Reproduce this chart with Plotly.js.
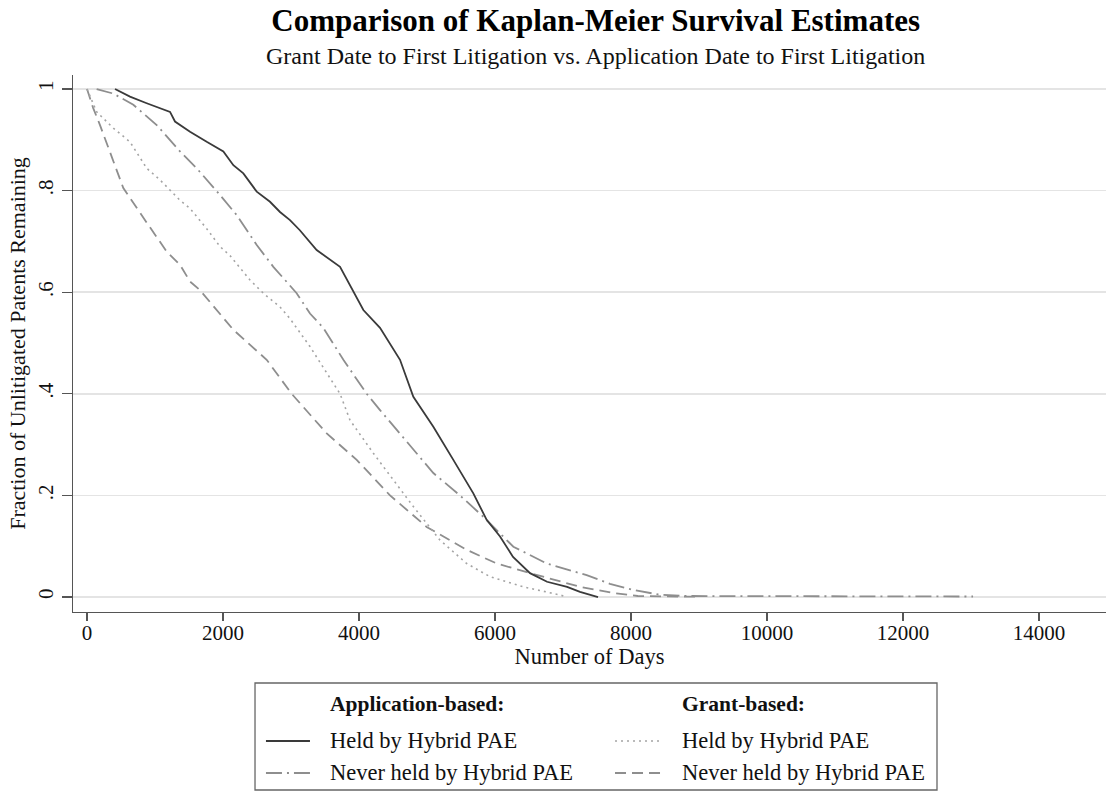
<!DOCTYPE html>
<html>
<head>
<meta charset="utf-8">
<script src="https://cdn.plot.ly/plotly-3.0.1.min.js"></script>
<style>
  html, body { margin: 0; padding: 0; background: #fff; }
  #chart { width: 1108px; height: 792px; }
</style>
</head>
<body>
<div id="chart"></div>
<script>
// ---------- Data ----------
const chartTitle = "Comparison of Kaplan-Meier Survival Estimates";
const chartSubtitle = "Grant Date to First Litigation vs. Application Date to First Litigation";
const xTitle = "Number of Days";
const yTitle = "Fraction of Unlitigated Patents Remaining";

const xTickVals = [0, 2000, 4000, 6000, 8000, 10000, 12000, 14000];
const xTickText = ["0", "2000", "4000", "6000", "8000", "10000", "12000", "14000"];
const yTickVals = [0, 0.2, 0.4, 0.6, 0.8, 1];
const yTickText = ["0", ".2", ".4", ".6", ".8", "1"];

const legendHeaders = ["Application-based:", "Grant-based:"];
const seriesNames = ["Held by Hybrid PAE", "Never held by Hybrid PAE",
                     "Held by Hybrid PAE", "Never held by Hybrid PAE"];

// Application-based, held by hybrid PAE (solid)
const appHeldDays = [412, 632, 878, 1221, 1294, 1515, 1760, 2005, 2152, 2299, 2496, 2691, 2838, 2985, 3130, 3377, 3721, 3819, 3917, 4064, 4309, 4603, 4799, 5093, 5387, 5681, 5877, 6074, 6265, 6515, 6765, 7060, 7250, 7515];
const appHeldSurv = [1.0, 0.985, 0.972, 0.955, 0.936, 0.916, 0.896, 0.877, 0.850, 0.834, 0.798, 0.778, 0.758, 0.742, 0.722, 0.683, 0.650, 0.626, 0.604, 0.565, 0.530, 0.467, 0.394, 0.335, 0.270, 0.204, 0.152, 0.119, 0.079, 0.047, 0.030, 0.020, 0.010, 0.0];

// Application-based, never held by hybrid PAE (dash-dot)
const appNeverDays = [142, 387, 681, 1025, 1368, 1613, 1907, 2201, 2496, 2740, 2912, 3083, 3279, 3475, 3770, 4113, 4309, 4603, 5093, 5485, 5828, 6270, 6760, 7348, 7690, 8034, 8400, 8770, 13030];
const appNeverSurv = [1.0, 0.991, 0.969, 0.929, 0.877, 0.844, 0.799, 0.752, 0.693, 0.650, 0.624, 0.598, 0.558, 0.530, 0.467, 0.400, 0.368, 0.322, 0.244, 0.200, 0.158, 0.099, 0.066, 0.043, 0.026, 0.014, 0.005, 0.002, 0.001];

// Grant-based, held by hybrid PAE (dotted)
const grantHeldDays = [0, 142, 387, 632, 878, 1074, 1368, 1515, 1760, 1956, 2103, 2397, 2593, 2838, 2985, 3279, 3721, 3868, 4211, 4505, 4799, 5191, 5583, 5926, 6416, 6956, 7060];
const grantHeldSurv = [1.0, 0.955, 0.923, 0.896, 0.844, 0.821, 0.781, 0.765, 0.725, 0.690, 0.672, 0.624, 0.598, 0.571, 0.548, 0.493, 0.400, 0.348, 0.283, 0.230, 0.178, 0.112, 0.066, 0.040, 0.020, 0.004, 0.0];

// Grant-based, never held by hybrid PAE (dashed)
const grantNeverDays = [0, 90, 191, 387, 534, 878, 1172, 1368, 1515, 1662, 2152, 2642, 3010, 3525, 3966, 4456, 4995, 5583, 6025, 6515, 7250, 7735, 8100, 9000];
const grantNeverSurv = [1.0, 0.963, 0.929, 0.857, 0.805, 0.737, 0.680, 0.654, 0.621, 0.604, 0.526, 0.467, 0.400, 0.322, 0.270, 0.200, 0.138, 0.093, 0.066, 0.047, 0.020, 0.008, 0.002, 0.0005];

// ---------- Styles ----------
const FONT = "Liberation Serif, Times New Roman, serif";
const styles = [
  {color: "#3a3a3a", width: 1.8, dash: "solid"},
  {color: "#8e8e8e", width: 1.8, dash: "16px,5px,2px,5px"},
  {color: "#a4a4a4", width: 1.6, dash: "2px,4px"},
  {color: "#8e8e8e", width: 1.8, dash: "11px,6px"}
];
const seriesX = [appHeldDays, appNeverDays, grantHeldDays, grantNeverDays];
const seriesY = [appHeldSurv, appNeverSurv, grantHeldSurv, grantNeverSurv];

const drawOrder = [3, 2, 1, 0];
const traces = drawOrder.map(i => ({
  type: "scatter",
  mode: "lines",
  x: seriesX[i],
  y: seriesY[i],
  name: seriesNames[i],
  line: {color: styles[i].color, width: styles[i].width, dash: styles[i].dash},
  showlegend: false,
  hoverinfo: "x+y"
}));

// ---------- Manual legend (box with two columns) ----------
const colSampleX = [[0.1868, 0.2294], [0.5247, 0.5702]];
const colTextX = [0.2469, 0.5876];
const headerY = -0.1713;
const rowY = [-0.2402, -0.2998];

const shapes = [{
  type: "rect", xref: "paper", yref: "paper",
  x0: 0.1762, x1: 0.8364, y0: -0.1322, y1: -0.3315,
  line: {color: "#666", width: 1.3}, fillcolor: "rgba(0,0,0,0)"
}];
const annotations = [{
  text: chartSubtitle, xref: "paper", yref: "paper", x: 0.506, y: 1.0354,
  xanchor: "center", yanchor: "middle", showarrow: false,
  font: {family: FONT, size: 24, color: "#111"}
}];
for (let c = 0; c < 2; c++) {
  annotations.push({
    text: "<b>" + legendHeaders[c] + "</b>", xref: "paper", yref: "paper",
    x: colTextX[c], y: headerY, xanchor: "left", yanchor: "middle", showarrow: false,
    font: {family: FONT, size: 21.5, color: "#111"}
  });
  for (let r = 0; r < 2; r++) {
    const i = c * 2 + r;
    shapes.push({
      type: "line", xref: "paper", yref: "paper",
      x0: colSampleX[c][0], x1: colSampleX[c][1], y0: rowY[r], y1: rowY[r],
      line: {color: styles[i].color, width: styles[i].width, dash: styles[i].dash}
    });
    annotations.push({
      text: seriesNames[i], xref: "paper", yref: "paper",
      x: colTextX[c], y: rowY[r], xanchor: "left", yanchor: "middle", showarrow: false,
      font: {family: FONT, size: 22.5, color: "#111"}
    });
  }
}

const layout = {
  width: 1108, height: 792,
  margin: {l: 73, r: 2, t: 75, b: 180},
  paper_bgcolor: "#ffffff", plot_bgcolor: "#ffffff",
  font: {family: FONT, color: "#111"},
  title: {
    text: "<b>" + chartTitle + "</b>",
    xref: "paper", x: 0.506, xanchor: "center",
    yref: "container", y: 0.975, yanchor: "middle",
    font: {family: FONT, size: 31, color: "#000"}
  },
  xaxis: {
    range: [-206, 14985],
    tickvals: xTickVals, ticktext: xTickText,
    ticks: "outside", ticklen: 8, tickwidth: 1.3, tickcolor: "#555",
    ticklabelstandoff: -7,
    showline: true, linecolor: "#555", linewidth: 1.3,
    showgrid: false, zeroline: false,
    tickfont: {family: FONT, size: 21, color: "#111"},
    title: {text: xTitle, font: {family: FONT, size: 22.5, color: "#111"}, standoff: 4},
    automargin: false
  },
  yaxis: {
    range: [-0.0295, 1.0276],
    tickvals: yTickVals, ticktext: yTickText, tickangle: -90,
    ticks: "outside", ticklen: 10, tickwidth: 1.3, tickcolor: "#555",
    showline: true, linecolor: "#555", linewidth: 1.3,
    showgrid: true, gridcolor: "#e4e4e4", gridwidth: 1.5, zeroline: false,
    tickfont: {family: FONT, size: 21, color: "#111"},
    title: {text: yTitle, font: {family: FONT, size: 22, color: "#111"}, standoff: 2},
    automargin: false
  },
  shapes: shapes,
  annotations: annotations,
  showlegend: false
};

Plotly.newPlot("chart", traces, layout, {displayModeBar: false, staticPlot: true});
</script>
</body>
</html>
